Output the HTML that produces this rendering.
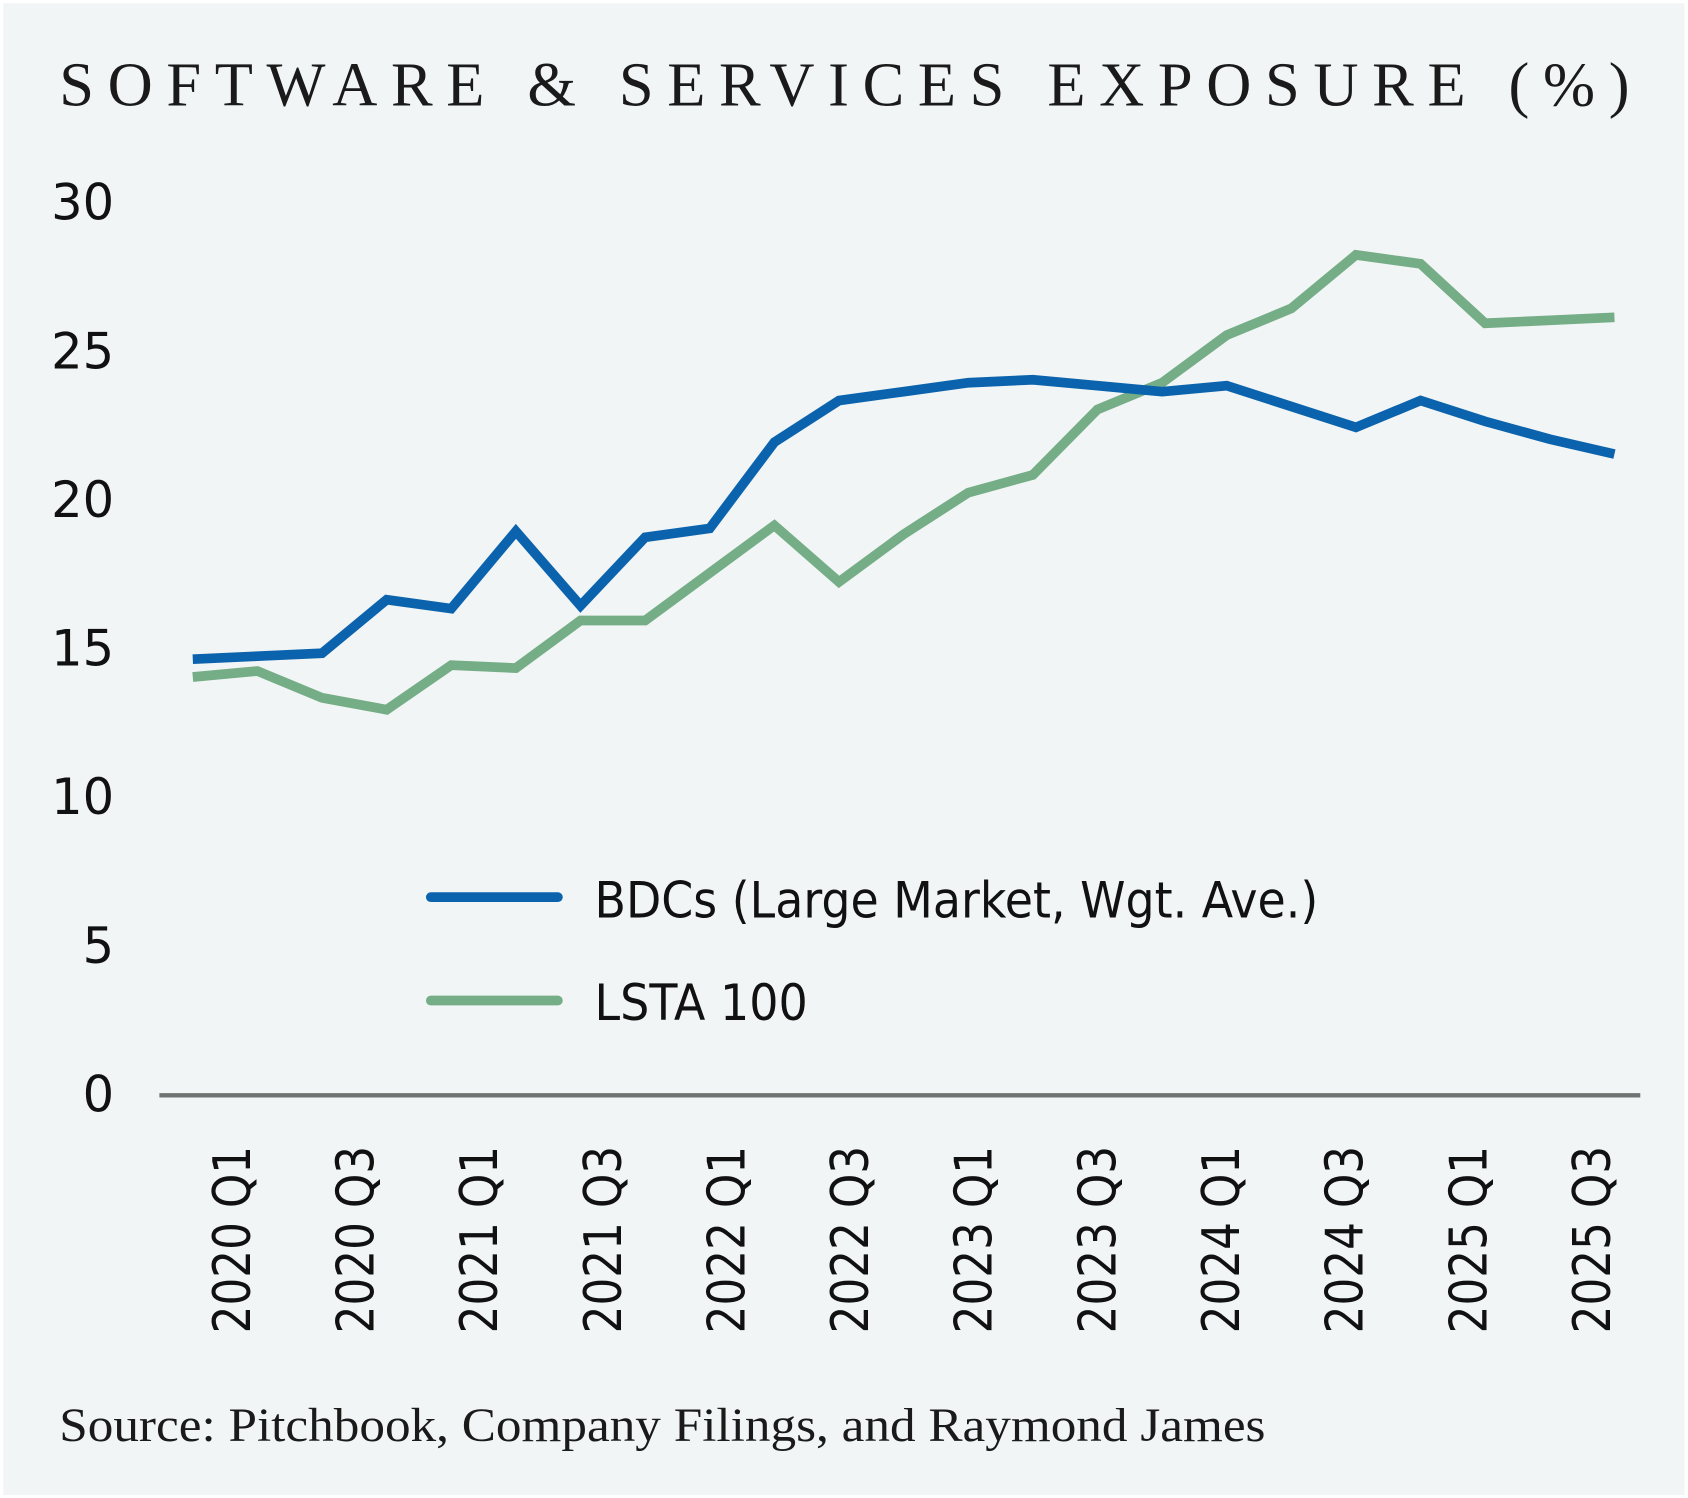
<!DOCTYPE html>
<html><head><meta charset="utf-8"><style>
html,body{margin:0;padding:0;background:#fff;}
svg{display:block;}
</style></head><body>
<svg id="chart" width="1688" height="1498" viewBox="0 0 1567.3 1390.9" preserveAspectRatio="none" xmlns="http://www.w3.org/2000/svg">
<rect x="3" y="3" width="1561" height="1385" fill="#f1f5f5"/>
<text x="55" y="98" font-family="Liberation Serif, serif" font-size="58" fill="#1a1a1a" textLength="1458" lengthAdjust="spacing">SOFTWARE &amp; SERVICES EXPOSURE (%)</text>
<g id="yticks"></g>
<g id="xticks"></g>
<line x1="148" y1="1017" x2="1523" y2="1017" stroke="#6f7372" stroke-width="4"/>
<g id="series"></g>
<g>
<line x1="400" y1="833" x2="518" y2="833" stroke="#0b63ad" stroke-width="9" stroke-linecap="round"/>
<text x="552" y="852" font-family="DejaVu Sans, sans-serif" font-size="46" fill="#111" textLength="672" lengthAdjust="spacingAndGlyphs">BDCs (Large Market, Wgt. Ave.)</text>
<line x1="400" y1="929" x2="518" y2="929" stroke="#74ad86" stroke-width="9" stroke-linecap="round"/>
<text x="552" y="947" font-family="DejaVu Sans, sans-serif" font-size="46" fill="#111" textLength="198" lengthAdjust="spacingAndGlyphs">LSTA 100</text>
</g>
<text x="55" y="1338" font-family="Liberation Serif, serif" font-size="44" fill="#1a1a1a" textLength="1120" lengthAdjust="spacingAndGlyphs">Source: Pitchbook, Company Filings, and Raymond James</text>
</svg>
<script>
const categories = ["2020 Q1","2020 Q2","2020 Q3","2020 Q4","2021 Q1","2021 Q2","2021 Q3","2021 Q4","2022 Q1","2022 Q2","2022 Q3","2022 Q4","2023 Q1","2023 Q2","2023 Q3","2023 Q4","2024 Q1","2024 Q2","2024 Q3","2024 Q4","2025 Q1","2025 Q2","2025 Q3"];
const bdcValues = [14.6,14.7,14.8,16.6,16.3,18.9,16.4,18.7,19.0,21.9,23.3,23.6,23.9,24.0,23.8,23.6,23.8,23.1,22.4,23.3,22.6,22.0,21.5];
const lstaValues = [14.0,14.2,13.3,12.9,14.4,14.3,15.9,15.9,17.5,19.1,17.2,18.8,20.2,20.8,23.0,23.9,25.5,26.4,28.2,27.9,25.9,26.0,26.1];
const yTicks = [0,5,10,15,20,25,30];
const xLabelIdx = [0,2,4,6,8,10,12,14,16,18,20,22];

const NS = "http://www.w3.org/2000/svg";
function y(v){ return 1015 - v*27.6; }
function x(i){ return 179 + i*60; }
function xl(i){ return 232 + i*57.4; }

const yg = document.getElementById('yticks');
yTicks.forEach(t=>{
  const el = document.createElementNS(NS,'text');
  
  
  el.setAttribute('x', 106); el.setAttribute('y', y(t)+17);
  el.setAttribute('text-anchor','end');
  el.setAttribute('font-family','DejaVu Sans, sans-serif');
  el.setAttribute('font-size','46'); el.setAttribute('fill','#111');
  el.textContent = t; yg.appendChild(el);
});
const xg = document.getElementById('xticks');
xLabelIdx.forEach(i=>{
  const el = document.createElementNS(NS,'text');
  
  
  const px = xl(i), py = 1064;
  el.setAttribute('x', px); el.setAttribute('y', py);
  el.setAttribute('transform','rotate(-90 '+px+' '+py+')');
  el.setAttribute('text-anchor','end');
  el.setAttribute('font-family','DejaVu Sans, sans-serif');
  el.setAttribute('font-size','48'); el.setAttribute('fill','#111');
  el.setAttribute('textLength','174'); el.setAttribute('lengthAdjust','spacingAndGlyphs');
  el.textContent = categories[i]; xg.appendChild(el);
});
const sg = document.getElementById('series');
function line(vals, color, name){
  const p = document.createElementNS(NS,'polyline');
  
  
  p.setAttribute('points', vals.map((v,i)=>x(i)+','+y(v)).join(' '));
  p.setAttribute('fill','none'); p.setAttribute('stroke',color);
  p.setAttribute('stroke-width','9'); p.setAttribute('stroke-linejoin','miter');
  sg.appendChild(p);
}
line(lstaValues,'#74ad86','lsta-100-line');
line(bdcValues,'#0b63ad','bdcs-line');
</script>
</body></html>
